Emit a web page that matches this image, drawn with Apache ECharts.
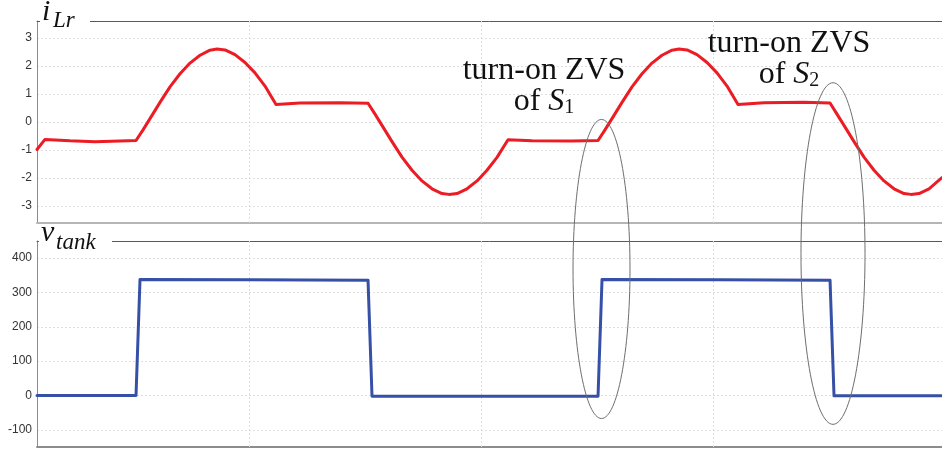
<!DOCTYPE html>
<html>
<head>
<meta charset="utf-8">
<script src="https://cdn.jsdelivr.net/npm/echarts@6/dist/echarts.min.js"></script>
<style>
  html, body { margin: 0; padding: 0; background: #fff; }
  #chart { width: 942px; height: 449px; }
</style>
</head>
<body>
<div id="chart"></div>
<script>
// Time base [µs]
const timeMin = 0.431;
const timeMax = 19.935;
const timeGrid = [5, 10, 15];

// Resonant inductor current i_Lr [A]
const tCurrent = [
  0.431, 0.603, 1.142, 1.681, 2.220, 2.565,
  2.716, 2.866, 3.082, 3.297, 3.513, 3.728, 3.944, 4.159, 4.310, 4.483, 4.698, 4.914, 5.129, 5.345, 5.582,
  6.099, 6.961, 7.565,
  7.716, 7.866, 8.082, 8.297, 8.513, 8.728, 8.944, 9.159, 9.310, 9.483, 9.698, 9.914, 10.129, 10.345, 10.582,
  11.099, 11.961, 12.522,
  12.672, 12.823, 13.039, 13.254, 13.470, 13.685, 13.901, 14.116, 14.267, 14.440, 14.655, 14.871, 15.086, 15.302, 15.539,
  16.099, 16.961, 17.522,
  17.672, 17.823, 18.039, 18.254, 18.470, 18.685, 18.901, 19.116, 19.267, 19.440, 19.655, 19.935
];
const iLr = [
  -0.98, -0.62, -0.67, -0.70, -0.68, -0.66,
  -0.28, 0.12, 0.70, 1.25, 1.72, 2.10, 2.38, 2.56, 2.60, 2.57, 2.40, 2.12, 1.75, 1.28, 0.62,
  0.68, 0.69, 0.67,
  0.28, -0.12, -0.70, -1.25, -1.72, -2.10, -2.38, -2.55, -2.58, -2.55, -2.38, -2.10, -1.72, -1.26, -0.63,
  -0.67, -0.68, -0.66,
  -0.28, 0.12, 0.70, 1.25, 1.72, 2.10, 2.38, 2.56, 2.60, 2.57, 2.40, 2.12, 1.75, 1.28, 0.62,
  0.69, 0.70, 0.68,
  0.28, -0.12, -0.70, -1.25, -1.72, -2.10, -2.38, -2.55, -2.58, -2.55, -2.38, -1.98
];

// Tank voltage v_tank [V]
const tVoltage = [0.431, 2.565, 2.651, 5.022, 7.565, 7.651, 9.978, 12.522, 12.608, 15.151, 17.522, 17.608, 19.935];
const vTank    = [0,     0,     338,   337,   336,   -2,    -2,    -2,     338,    337,    336,    -1,     -1];

// Axis tick labels
const currentTicks = [-3, -2, -1, 0, 1, 2, 3];
const voltageTicks = [-100, 0, 100, 200, 300, 400];

// ZVS turn-on callouts
const zvsTimes = [12.597, 17.586];
const zvsHalfWidth = [0.614, 0.69];
const zvsCurrentTop = [0.09, 1.40];
const zvsVoltageBottom = [-67, -84];
const zvsSwitch = ['1', '2'];

const zip = (xs, ys) => xs.map((x, k) => [x, ys[k]]);

const chart = echarts.init(document.getElementById('chart'), null, { renderer: 'canvas' });

const gridLine = { color: '#dedede', type: [2, 2], width: 1 };
const labelStyle = { fontSize: 12, color: '#333', fontFamily: 'Liberation Sans, Arial, sans-serif', margin: 5 };

function xAxisPair(gridIndex, bottomColor) {
  const base = {
    gridIndex, type: 'value', min: timeMin, max: timeMax,
    axisTick: { show: false }, axisLabel: { show: false }, splitLine: { show: false }
  };
  return [
    Object.assign({}, base, { position: 'bottom', axisLine: { onZero: false, lineStyle: { color: bottomColor, width: 2 } } }),
    Object.assign({}, base, { position: 'top', axisLine: { onZero: false, lineStyle: { color: '#5a5a5a', width: 1 } } })
  ];
}

function yAxisFor(gridIndex, min, max, splitNumber, ticks) {
  return {
    gridIndex, type: 'value', min, max, splitNumber,
    axisLine: { show: true, onZero: false, lineStyle: { color: '#8c8c8c', width: 1 } },
    axisTick: { show: false },
    axisLabel: Object.assign({}, labelStyle, {
      showMinLabel: false, showMaxLabel: false,
      formatter: v => (ticks.indexOf(Math.round(v * 1000) / 1000) >= 0 ? String(Math.round(v)) : '')
    }),
    splitLine: { show: true, lineStyle: gridLine, showMinLine: false, showMaxLine: false }
  };
}

const timeGridMark = {
  silent: true, symbol: 'none', z: 1,
  label: { show: false },
  lineStyle: gridLine,
  emphasis: { disabled: true },
  data: timeGrid.map(t => ({ xAxis: t }))
};

chart.setOption({
  animation: false,
  backgroundColor: '#fff',
  grid: [
    { left: 37, right: 0, top: 21, height: 202 },
    { left: 37, right: 0, top: 241, height: 206 }
  ],
  xAxis: [].concat(xAxisPair(0, '#b5b5b5'), xAxisPair(1, '#8c8c8c')),
  yAxis: [
    yAxisFor(0, -3.6, 3.6, 7, currentTicks),
    yAxisFor(1, -150, 450, 6, voltageTicks)
  ],
  series: [
    {
      name: 'grid-t0', type: 'line', xAxisIndex: 0, yAxisIndex: 0, data: [], z: 1,
      markLine: timeGridMark
    },
    {
      name: 'grid-t1', type: 'line', xAxisIndex: 2, yAxisIndex: 1, data: [], z: 1,
      markLine: timeGridMark
    },
    {
      name: 'i_Lr', type: 'line', xAxisIndex: 0, yAxisIndex: 0,
      data: zip(tCurrent, iLr), symbol: 'none', z: 5,
      lineStyle: { color: '#ec1c24', width: 3, join: 'round', cap: 'round' }
    },
    {
      name: 'v_tank', type: 'line', xAxisIndex: 2, yAxisIndex: 1,
      data: zip(tVoltage, vTank), symbol: 'none', z: 5,
      lineStyle: { color: '#3550a6', width: 3, join: 'round', cap: 'round' }
    }
  ]
});

// Callouts: ellipses around the switching instants and their captions
const serif = '"Liberation Serif", "Times New Roman", serif';
const graphics = [];

zvsTimes.forEach((t, k) => {
  const top = chart.convertToPixel({ gridIndex: 0 }, [t, zvsCurrentTop[k]]);
  const bottom = chart.convertToPixel({ gridIndex: 1 }, [t, zvsVoltageBottom[k]]);
  const side = chart.convertToPixel({ gridIndex: 0 }, [t + zvsHalfWidth[k], 0]);
  graphics.push({
    type: 'ellipse', z: 50, silent: true,
    shape: { cx: top[0], cy: (top[1] + bottom[1]) / 2, rx: side[0] - top[0], ry: (bottom[1] - top[1]) / 2 },
    style: { fill: 'none', stroke: '#6e6e6e', lineWidth: 1 }
  });
});

const captionAt = [[544, 71, 102], [789, 44, 75]];
captionAt.forEach((p, k) => {
  graphics.push({
    type: 'text', z: 60, silent: true, x: p[0], y: p[1],
    style: { text: 'turn-on ZVS', font: '32px ' + serif, fill: '#111', align: 'center', verticalAlign: 'middle' }
  });
  graphics.push({
    type: 'text', z: 60, silent: true, x: p[0], y: p[2],
    style: {
      text: '{a|of }{b|S}{c|' + zvsSwitch[k] + '}',
      align: 'center', verticalAlign: 'middle',
      rich: {
        a: { font: '32px ' + serif, fill: '#111', lineHeight: 32 },
        b: { font: 'italic 32px ' + serif, fill: '#111', lineHeight: 32 },
        c: { font: '20px ' + serif, fill: '#111', lineHeight: 12, verticalAlign: 'bottom' }
      }
    }
  });
});

// Panel titles sitting on the frame line: symbol plus lowered subscript
function panelTitle(x, bottom, subX, subBottom, boxTop, boxHeight, w, main, sub) {
  graphics.push({
    type: 'rect', z: 40, silent: true,
    shape: { x: x - 2, y: boxTop, width: w, height: boxHeight },
    style: { fill: '#fff' }
  });
  graphics.push({
    type: 'text', z: 60, silent: true, x: x, y: bottom,
    style: { text: main, font: 'italic 30px ' + serif, fill: '#111', align: 'left', verticalAlign: 'bottom' }
  });
  graphics.push({
    type: 'text', z: 60, silent: true, x: subX, y: subBottom,
    style: { text: sub, font: 'italic 23px ' + serif, fill: '#111', align: 'left', verticalAlign: 'bottom' }
  });
}
panelTitle(42, 27, 53, 32, 0, 34, 50, 'i', 'Lr');
panelTitle(41, 248, 56, 254, 228, 26, 73, 'v', 'tank');

chart.setOption({ graphic: graphics });
</script>
</body>
</html>
